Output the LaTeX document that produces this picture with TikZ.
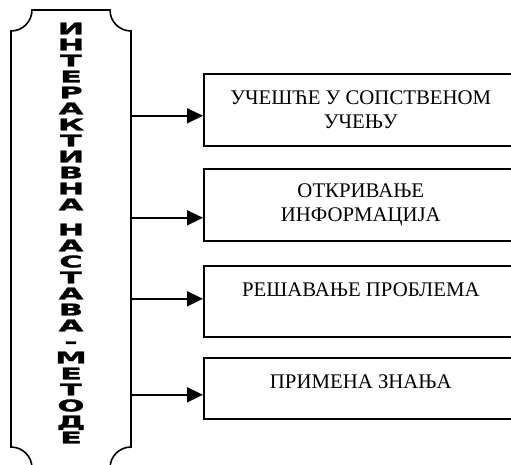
\documentclass[tikz,border=0pt]{standalone}
\usepackage{fontspec}
\setmainfont{Liberation Serif}
\newfontfamily\naslovfont[FakeStretch=2.0,FakeBold=2]{DejaVu Sans}
\usetikzlibrary{arrows.meta,positioning}

\begin{document}
\begin{tikzpicture}
            [x=1pt,y=-1pt,
             oblik/.style ={draw,line width=1.6pt,anchor=north west,minimum width=314pt,inner sep=0pt,
                            font=\fontsize{20.8}{24.5}\selectfont,align=center},
             strelica/.style ={line width=1.6pt,-{Triangle[length=16pt,width=15pt]}},
             naslov/.style ={font=\naslovfont\bfseries\fontsize{16}{16}\selectfont,align=center,inner sep=0pt}]
            \clip (0,0) rectangle (511,465);
            % svitak
            \draw[line width=1.6pt] (32,10) -- (110,10) .. controls (110,21.6) and (119.4,31) .. (131,31)
                -- (131,447) .. controls (119.4,447) and (110,456.4) .. (110,468)
                -- (32,468) .. controls (32,456.4) and (22.6,447) .. (11,447)
                -- (11,31) .. controls (22.6,31) and (32,21.6) .. (32,10) -- cycle;
            \coordinate (svitak) at (131,233);
            \node[naslov] (metode) at (71,233) {И\\Н\\Т\\Е\\Р\\А\\К\\Т\\И\\В\\Н\\А\\[9pt]Н\\А\\С\\Т\\А\\В\\А\\-\\М\\Е\\Т\\О\\Д\\Е};
            % kucice
            \node[oblik,minimum height=72pt] (ucesce) at (203,73) {УЧЕШЋЕ У СОПСТВЕНОМ\\УЧЕЊУ};
            \node[oblik,minimum height=72pt] (otkrivanje) at (203,168) {ОТКРИВАЊЕ\\ИНФОРМАЦИЈА};
            \node[oblik,minimum height=71pt,text height=14pt,text depth=23pt] (problemi) at (203,265) {РЕШАВАЊЕ ПРОБЛЕМА};
            \node[oblik,minimum height=61pt,text height=14pt,text depth=13pt] (primena) at (203,357) {ПРИМЕНА ЗНАЊА};
            % strelice
            \coordinate (k1) at ([yshift=-6pt]ucesce.west);
            \coordinate (k2) at ([yshift=-13pt]otkrivanje.west);
            \coordinate (k3) at ([yshift=2.5pt]problemi.west);
            \coordinate (k4) at ([yshift=-6.5pt]primena.west);
            \draw[strelica] (svitak |- k1) -- (k1);
            \draw[strelica] (svitak |- k2) -- (k2);
            \draw[strelica] (svitak |- k3) -- (k3);
            \draw[strelica] (svitak |- k4) -- (k4);
\end{tikzpicture}
\end{document}
